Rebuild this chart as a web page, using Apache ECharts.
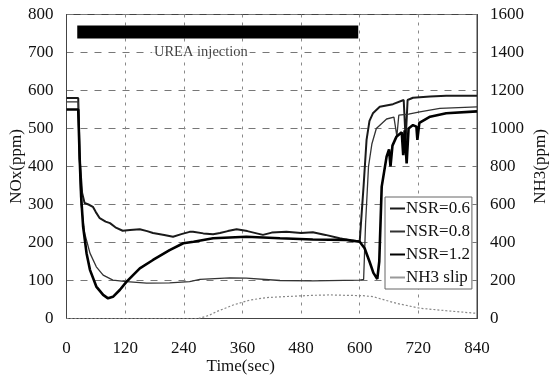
<!DOCTYPE html>
<html><head><meta charset="utf-8">
<script src="https://cdn.jsdelivr.net/npm/echarts@6/dist/echarts.min.js"></script>
<style>html,body{margin:0;padding:0;background:#fff}#c{width:555px;height:383px}</style>
</head><body><div id="c"></div>
<script>
// X axis ticks
const xTicks = [0, 120, 240, 360, 480, 600, 720, 840];
const noxTicks = [0, 100, 200, 300, 400, 500, 600, 700, 800];
const nh3Ticks = [0, 200, 400, 600, 800, 1000, 1200, 1400, 1600];

// NSR=0.6 (NOx, ppm)
const nsr06Time = [0, 24, 27, 32, 37, 45, 54, 60, 68, 80, 89, 100, 115, 130, 150, 165, 177, 200, 218, 235, 252, 259, 280, 300, 314, 330, 348, 370, 402, 420, 450, 480, 504, 530, 559, 580, 600, 604, 608, 614, 620, 627, 641, 668, 690, 694, 698, 709, 744, 777, 840];
const nsr06Val  = [580, 580, 420, 330, 304, 300, 294, 280, 264, 255, 251, 240, 231, 233, 235, 230, 225, 220, 215, 222, 228, 228, 224, 222, 225, 230, 235, 230, 220, 226, 228, 225, 227, 220, 211, 205, 203, 205, 350, 470, 520, 540, 557, 564, 575, 470, 575, 581, 584, 586, 586];

// NSR=0.8 (NOx, ppm)
const nsr08Time = [0, 24, 27, 30, 37, 48, 61, 75, 95, 123, 164, 211, 252, 273, 334, 368, 437, 504, 600, 608, 612, 618, 625, 634, 655, 670, 676, 680, 700, 723, 764, 840];
const nsr08Val  = [570, 570, 400, 300, 225, 172, 136, 114, 101, 97, 93, 94, 97, 103, 107, 106, 100, 99, 101, 103, 250, 400, 460, 500, 525, 530, 480, 535, 538, 544, 553, 557];

// NSR=1.2 (NOx, ppm)
const nsr12Time = [0, 24, 27, 30, 34, 41, 48, 61, 75, 85, 95, 109, 123, 150, 177, 211, 239, 260, 300, 368, 437, 504, 573, 600, 610, 620, 628, 636, 640, 645, 655, 660, 663, 667, 675, 686, 689, 692, 696, 700, 709, 716, 718, 722, 744, 777, 840];
const nsr12Val  = [550, 550, 420, 320, 242, 172, 128, 84, 62, 53, 57, 75, 97, 132, 154, 180, 198, 202, 211, 215, 211, 208, 207, 202, 185, 150, 120, 104, 150, 347, 426, 445, 400, 455, 478, 490, 430, 495, 408, 500, 509, 505, 470, 515, 531, 540, 545];

// NH3 slip (ppm, right axis)
const slipTime = [0, 270, 290, 307, 341, 375, 409, 437, 504, 539, 607, 627, 675, 723, 777, 840];
const slipVal  = [0, 0, 15, 36, 71, 97, 110, 114, 122, 124, 120, 115, 80, 54, 41, 27];

// Urea injection period
const ureaTime = [22, 597];
const ureaLevel = [754, 754];
const ureaLabelPos = [275, 700];

const zip = (a, b) => a.map((t, i) => [t, b[i]]);
const FONT = '"Liberation Serif", "DejaVu Serif", serif';

const chart = echarts.init(document.getElementById('c'), null, {renderer: 'canvas'});
chart.setOption({
  animation: false,
  backgroundColor: '#fff',
  textStyle: {fontFamily: FONT, color: '#000'},
  grid: {left: 66.5, right: 78, top: 14.5, bottom: 64.5, show: true, borderColor: '#444', borderWidth: 1, containLabel: false, outerBoundsMode: 'none'},
  legend: {
    orient: 'vertical', left: 385, top: 197,
    data: ['NSR=0.6', 'NSR=0.8', 'NSR=1.2', 'NH3 slip'],
    icon: 'rect', itemWidth: 15, itemHeight: 2,
    backgroundColor: '#fff', borderColor: '#666', borderWidth: 1,
    padding: [3, 2, 3, 5], itemGap: 6,
    textStyle: {fontFamily: FONT, fontSize: 17, color: '#111', padding: [0, 0, 0, -4], lineHeight: 17}
  },
  xAxis: {
    type: 'value', min: xTicks[0], max: xTicks[xTicks.length - 1], interval: 120,
    name: 'Time(sec)', nameLocation: 'middle', nameGap: 40, nameMoveOverlap: false,
    nameTextStyle: {fontFamily: FONT, fontSize: 17, color: '#111', padding: [0, 62, 0, 0]},
    axisLine: {show: true, lineStyle: {color: '#444'}}, axisTick: {show: false},
    axisLabel: {fontFamily: FONT, fontSize: 17, color: '#111', margin: 22},
    splitLine: {show: true, lineStyle: {color: '#888', type: [3, 5], width: 1}}
  },
  yAxis: [{
    type: 'value', min: noxTicks[0], max: noxTicks[noxTicks.length - 1], interval: 100,
    name: 'NOx(ppm)', nameLocation: 'middle', nameGap: 41, nameRotate: 90, nameMoveOverlap: false,
    nameTextStyle: {fontFamily: FONT, fontSize: 17, color: '#111'},
    axisLine: {show: true, lineStyle: {color: '#444'}}, axisTick: {show: false},
    axisLabel: {fontFamily: FONT, fontSize: 17, color: '#111', margin: 13},
    splitLine: {show: true, lineStyle: {color: '#777', type: [7, 7], width: 1}}
  }, {
    type: 'value', min: nh3Ticks[0], max: nh3Ticks[nh3Ticks.length - 1], interval: 200, position: 'right',
    name: 'NH3(ppm)', nameLocation: 'middle', nameGap: 55, nameRotate: 90, nameMoveOverlap: false,
    nameTextStyle: {fontFamily: FONT, fontSize: 17, color: '#111'},
    axisLine: {show: true, lineStyle: {color: '#444'}}, axisTick: {show: false},
    axisLabel: {fontFamily: FONT, fontSize: 17, color: '#111', margin: 13, formatter: v => String(v)},
    splitLine: {show: false}
  }],
  series: [
    {name: 'UREA', type: 'line', data: zip(ureaTime, ureaLevel), symbol: 'none', silent: true,
     lineStyle: {color: '#000', width: 13, cap: 'butt'}, z: 5},
    {name: 'label', type: 'scatter', data: [ureaLabelPos], symbolSize: 0, silent: true,
     label: {show: true, position: 'inside', formatter: 'UREA injection', fontFamily: FONT, fontSize: 14.5, color: '#111', backgroundColor: '#fff', padding: [1, 2]}},
    {name: 'NH3 slip', type: 'line', yAxisIndex: 1, data: zip(slipTime, slipVal), symbol: 'none',
     lineStyle: {color: '#888', width: 1.2, type: [2, 2]}, itemStyle: {color: '#999'}, z: 3},
    {name: 'NSR=0.6', type: 'line', data: zip(nsr06Time, nsr06Val), symbol: 'none',
     lineStyle: {color: '#1a1a1a', width: 2}, itemStyle: {color: '#1a1a1a'}, z: 4},
    {name: 'NSR=0.8', type: 'line', data: zip(nsr08Time, nsr08Val), symbol: 'none',
     lineStyle: {color: '#333', width: 1.3}, itemStyle: {color: '#333'}, z: 4},
    {name: 'NSR=1.2', type: 'line', data: zip(nsr12Time, nsr12Val), symbol: 'none',
     lineStyle: {color: '#000', width: 2.6}, itemStyle: {color: '#000'}, z: 4}
  ]
});
</script></body></html>
